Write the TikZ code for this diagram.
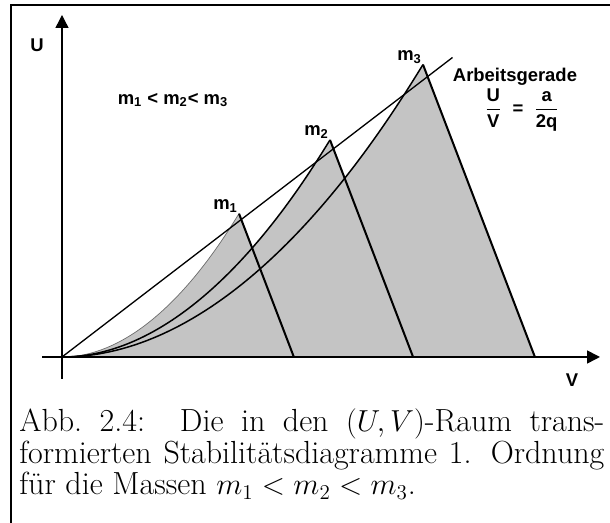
\documentclass[tikz,border=0pt]{standalone}
\usepackage{fontspec}
\setsansfont{Liberation Sans}
\usepackage{amsmath}
\usetikzlibrary{arrows.meta, positioning}
\definecolor{stabGrey}{HTML}{C4C4C4}
\tikzset{
  axisline/.style  = {-{Triangle[length=2.6mm, width=2.6mm]}, line width=0.8pt, black},
  frameline/.style = {line width=1.1pt, black},
  region/.style    = {fill=stabGrey},
  rimline/.style   = {line width=1.15pt, black},
  curveline/.style = {line width=0.85pt, black},
  gerade/.style    = {line width=0.75pt, black},
  lbl/.style       = {font=\sffamily\bfseries\fontsize{10.5}{12.6}\selectfont, inner sep=0.5pt},
  caplbl/.style    = {font=\fontsize{18.2}{18}\selectfont, text width=11.7cm,
                      align=justify, inner sep=0pt},
}

\begin{document}
\begin{tikzpicture}[x=1cm,y=1cm]
  \useasboundingbox (-1.24,-3.32) rectangle (10.96,7.14);
  \draw[frameline] (-1.02,-3.32) -- (-1.02,7.04) -- (10.96,7.04);
  \coordinate (O) at (0,0);
  % stability regions, scaled with the mass
  \foreach \s in {7.22, 5.36, 3.54}
    \fill[region] (O) parabola (\s,0.81*\s) -- (1.31*\s,0) -- cycle;
  \draw[stabGrey!55!black, line width=0.4pt] (O) parabola (3.54,0.81*3.54);
  \draw[curveline] (O) parabola (5.36,0.81*5.36);
  \draw[curveline] (O) parabola (7.22,0.81*7.22);
  \foreach \s/\n in {3.54/1, 5.36/2, 7.22/3}
  {
    \coordinate (p\n) at (\s,0.81*\s);
    \coordinate (f\n) at (1.31*\s,0);
    \draw[rimline] (p\n) -- (f\n);
    \node[lbl, anchor=south east] (m\n) at (p\n) {m\textsubscript{\n}};
  }
  % Arbeitsgerade
  \coordinate (gEnd) at (7.81,5.99);
  \draw[gerade] (O) -- (gEnd);
  % axes
  \coordinate (uBot) at (0,-0.44); \coordinate (uTop) at (0,6.84);
  \coordinate (vLeft) at (-0.4,0); \coordinate (vRight) at (10.76,0);
  \draw[axisline] (uBot) -- (uTop);
  \draw[axisline, line width=0.9pt] (vLeft) -- (vRight);
  \node[lbl] (uLbl) at (-0.5,6.24) {U};
  \node[lbl] (vLbl) at (10.2,-0.46) {V};
  \node[lbl] (order) at (2.22,5.14) {m\textsubscript{1} < m\textsubscript{2}< m\textsubscript{3}};
  \node[lbl] (gName) at (9.06,5.6) {Arbeitsgerade};
  \node[lbl] (gFrac) at (9.2,4.94)
    {$\dfrac{\text{U}}{\text{V}}\ \mathrel{\text{=}}\ \dfrac{\text{a}}{\text{2q}}$};
  % caption
  \node[caplbl, anchor=north west] (cap) at (-0.86,-1.03)
    {Abb.~2.4:\ \ Die in den $(U,V)$-Raum trans-\linebreak
     formierten Stabilitätsdiagramme 1. Ordnung\linebreak
     für die Massen $m_1 < m_2 < m_3$.};
\end{tikzpicture}
\end{document}
